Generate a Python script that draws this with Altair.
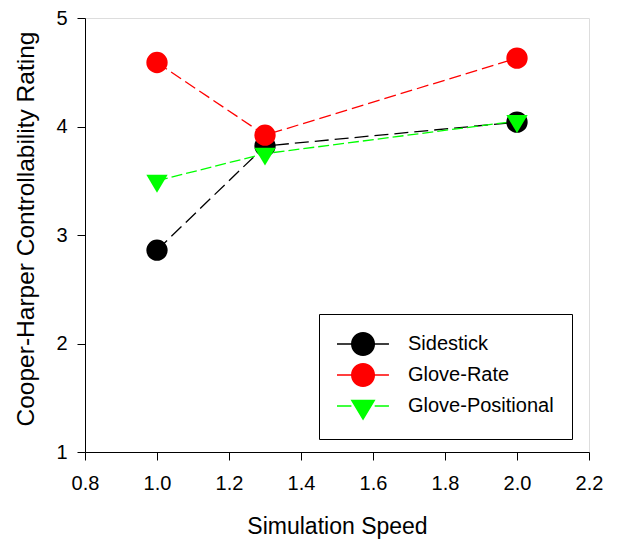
import altair as alt
import pandas as pd

# ---- data ----
speeds = [1.0, 1.3, 2.0]
series_names = ["Sidestick", "Glove-Rate", "Glove-Positional"]
sidestick = [2.86, 3.82, 4.04]
glove_rate = [4.59, 3.92, 4.63]
glove_positional = [3.50, 3.75, 4.05]

colors = ["#000000", "#FF0000", "#00FF00"]
dashes = [[14, 6], [12, 5], [11, 4]]

x_ticks = [0.8, 1.0, 1.2, 1.4, 1.6, 1.8, 2.0, 2.2]
y_ticks = [1, 2, 3, 4, 5]

rows = []
for name, vals in zip(series_names, [sidestick, glove_rate, glove_positional]):
    for s, v in zip(speeds, vals):
        rows.append({"speed": s, "rating": v, "series": name})
df = pd.DataFrame(rows)

order_map = {"Sidestick": 0, "Glove-Positional": 1, "Glove-Rate": 2}
df["draw"] = df["series"].map(order_map)

FONT = "Liberation Sans"

# plot-symbol shapes (centroid-centered downward triangle)
tri_plot = "M-1,-0.56 L1,-0.56 L0,1.12 Z"
# legend symbols (unit = 12 px), drawn shifted right so the line starts at the entry edge
leg_line = "M-1,-0.06 H0.2 V0.06 H-1 Z M2.14,-0.06 H3.33 V0.06 H2.14 Z"
leg_circle = "M0.17,0 A1,1 0 1,1 2.17,0 A1,1 0 1,1 0.17,0 Z " + leg_line
leg_tri = "M0.13,-0.52 L2.21,-0.52 L1.17,1.2 Z " + leg_line

xscale = alt.Scale(domain=[0.8, 2.2], nice=False, zero=False)
yscale = alt.Scale(domain=[1, 5], nice=False, zero=False)

xenc = alt.X("speed:Q", scale=xscale,
             axis=alt.Axis(values=x_ticks, format=".1f", title="Simulation Speed",
                           grid=False, tickSize=8, labelPadding=13, labelFlush=False,
                           labelFontSize=20, titleFontSize=23, labelFont=FONT, titleFont=FONT,
                           titleBaseline="alphabetic", titleY=81,
                           domainColor="#000", tickColor="#000", labelColor="#000",
                           titleColor="#000", titleFontWeight="normal"))
yenc = alt.Y("rating:Q", scale=yscale,
             axis=alt.Axis(values=y_ticks, format="d", title="Cooper-Harper Controllability Rating",
                           grid=False, tickSize=8, labelPadding=10, labelFlush=False,
                           labelFontSize=20, titleFontSize=24.5, labelFont=FONT, titleFont=FONT,
                           titleBaseline="alphabetic", titleX=-52, titleY=210.5, titleAngle=270,
                           domainColor="#000", tickColor="#000", labelColor="#000",
                           titleColor="#000", titleFontWeight="normal"))

base = alt.Chart(df)

lines = []
for name, col, dash in zip(series_names, colors, dashes):
    lines.append(
        base.transform_filter(alt.datum.series == name)
        .mark_line(color=col, strokeDash=dash, strokeWidth=1.3)
        .encode(x=xenc, y=yenc, order="speed:Q")
    )

points = base.mark_point(filled=True, opacity=1, size=455, strokeWidth=0).encode(
    x=xenc, y=yenc,
    color=alt.Color("series:N", scale=alt.Scale(domain=series_names, range=colors), legend=None),
    shape=alt.Shape("series:N",
                    scale=alt.Scale(domain=series_names, range=["circle", "circle", tri_plot]),
                    legend=None),
    order="draw:Q",
)

leg = alt.Legend(title=None, orient="none", legendX=234, legendY=296,
                 symbolSize=576, symbolOpacity=1, symbolStrokeWidth=0,
                 labelFontSize=20, labelFont=FONT, labelColor="#000",
                 labelOffset=47, padding=18, rowPadding=7,
                 strokeColor="#000", fillColor="#fff",
                 cornerRadius=0, labelLimit=300)

legend_layer = base.transform_filter(alt.datum.speed < 0).mark_point(
    filled=True, size=576, strokeWidth=0).encode(
    x=xenc, y=yenc,
    color=alt.Color("series:N", scale=alt.Scale(domain=series_names, range=colors), legend=leg),
    shape=alt.Shape("series:N",
                    scale=alt.Scale(domain=series_names, range=[leg_circle, leg_circle, leg_tri]),
                    legend=leg),
)

chart = alt.layer(*lines, points, legend_layer).resolve_scale(
    shape="independent", color="independent").properties(
    width=504, height=434,
    autosize=alt.AutoSizeParams(type="none"),
    padding={"left": 77, "top": 10, "right": 21, "bottom": 87},
).configure_view(stroke="#000", strokeWidth=1.3).configure(background="#fff")

chart.save("out.html", embed_options={"renderer": "svg", "actions": False})
